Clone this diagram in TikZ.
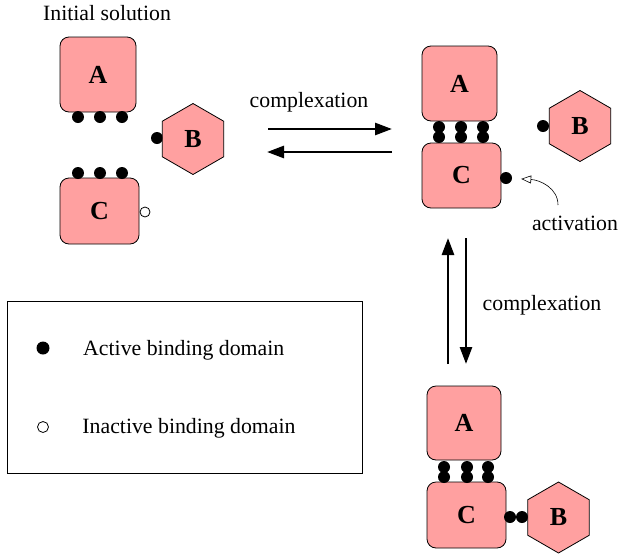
\documentclass[tikz,border=0pt]{standalone}
\usepackage{fontspec}
\setmainfont{Liberation Serif}
\usetikzlibrary{shapes.geometric,arrows.meta,positioning}
\definecolor{protein}{RGB}{255,160,160}

\begin{document}
\begin{tikzpicture}[x=1pt,y=-1pt,font=\fontsize{21.8}{25}\selectfont,
  prot/.style={draw,fill=protein,rounded corners=9pt,line width=0.8pt,font=\fontsize{26}{28}\selectfont\bfseries},
  hexa/.style={draw,fill=protein,regular polygon,regular polygon sides=6,shape border rotate=30,
    minimum size=71pt,inner sep=0pt,line width=0.8pt,font=\fontsize{26}{28}\selectfont\bfseries},
  site/.style={circle,fill=black,inner sep=0pt,minimum size=12pt},
  offsite/.style={circle,draw,fill=white,inner sep=0pt,minimum size=10pt,line width=0.8pt},
  react/.style={line width=2.7pt,-{Triangle[length=17pt,width=12pt]}}]
\useasboundingbox (0,0) rectangle (619,555);

\node (title) at (107,13) {Initial solution};
\node (A1) [prot,minimum width=76pt,minimum height=75pt] at (98,74.5) {A};
\node (C1) [prot,minimum width=79pt,minimum height=66pt] at (99.5,211) {C};
\node (a1) [site] at (78,117) {};
\node (a2) [site] at (100,117) {};
\node (a3) [site] at (122,117) {};
\node (c1) [site] at (78,173) {};
\node (c2) [site] at (100,173) {};
\node (c3) [site] at (122,173) {};
\node (cx) [offsite] at (145,212) {};
\node (bs) [site] at (157,138) {};
\node (B1) [hexa] at (193,139) {B};

\node (cplx1) at (309,102) {complexation};
\coordinate (f1) at (268,129);
\coordinate (f2) at (392,129);
\coordinate (r1) at (392,152);
\coordinate (r2) at (267,152);
\draw[react] (f1) -- (f2);
\draw[react] (r1) -- (r2);

\node (A2) [prot,minimum width=75pt,minimum height=75pt] at (459.5,83.5) {A};
\node (C2) [prot,minimum width=79pt,minimum height=65pt] at (461.5,175.5) {C};
\foreach \x [count=\i] in {439,461,483} {
  \node (u\i) [site] at (\x,127) {};
  \node (l\i) [site] at (\x,137) {};
}
\node (cd) [site] at (506,178) {};
\node (bs2) [site] at (543,126) {};
\node (B2) [hexa] at (580,126) {B};
\node (act) at (575,223) {activation};
\coordinate (actfoot) at (558,205);
\draw[line width=0.6pt,-{Triangle[open,length=10pt,width=8pt]},shorten >=9pt]
  (actfoot) .. controls (558,188) and (540,180) .. (cd);

\coordinate (d1) at (448,364);
\coordinate (d2) at (448,238);
\coordinate (e1) at (466,238);
\coordinate (e2) at (466,364);
\draw[react] (d1) -- (d2);
\draw[react] (e1) -- (e2);
\node (cplx2) at (542,305) {complexation};

\node (A3) [prot,minimum width=74pt,minimum height=74pt] at (464,423) {A};
\node (C3) [prot,minimum width=79pt,minimum height=66pt] at (466.5,515) {C};
\foreach \x [count=\i] in {444,467,488} {
  \node (p\i) [site] at (\x,467) {};
  \node (q\i) [site] at (\x,477) {};
}
\node (cd3) [site] at (510,517) {};
\node (bs3) [site] at (522,517) {};
\node (B3) [hexa] at (558.5,517.5) {B};

\draw[line width=0.8pt] (7,301) rectangle (362,473);
\node (kon) [site,minimum size=13pt] at (43,348) {};
\node (koff) [offsite,minimum size=11pt] at (43,427) {};
\node (kontext) [right=30pt of kon,yshift=-2pt] {Active binding domain};
\node (kofftext) [right=30pt of koff,yshift=-1pt] {Inactive binding domain};
\end{tikzpicture}
\end{document}
